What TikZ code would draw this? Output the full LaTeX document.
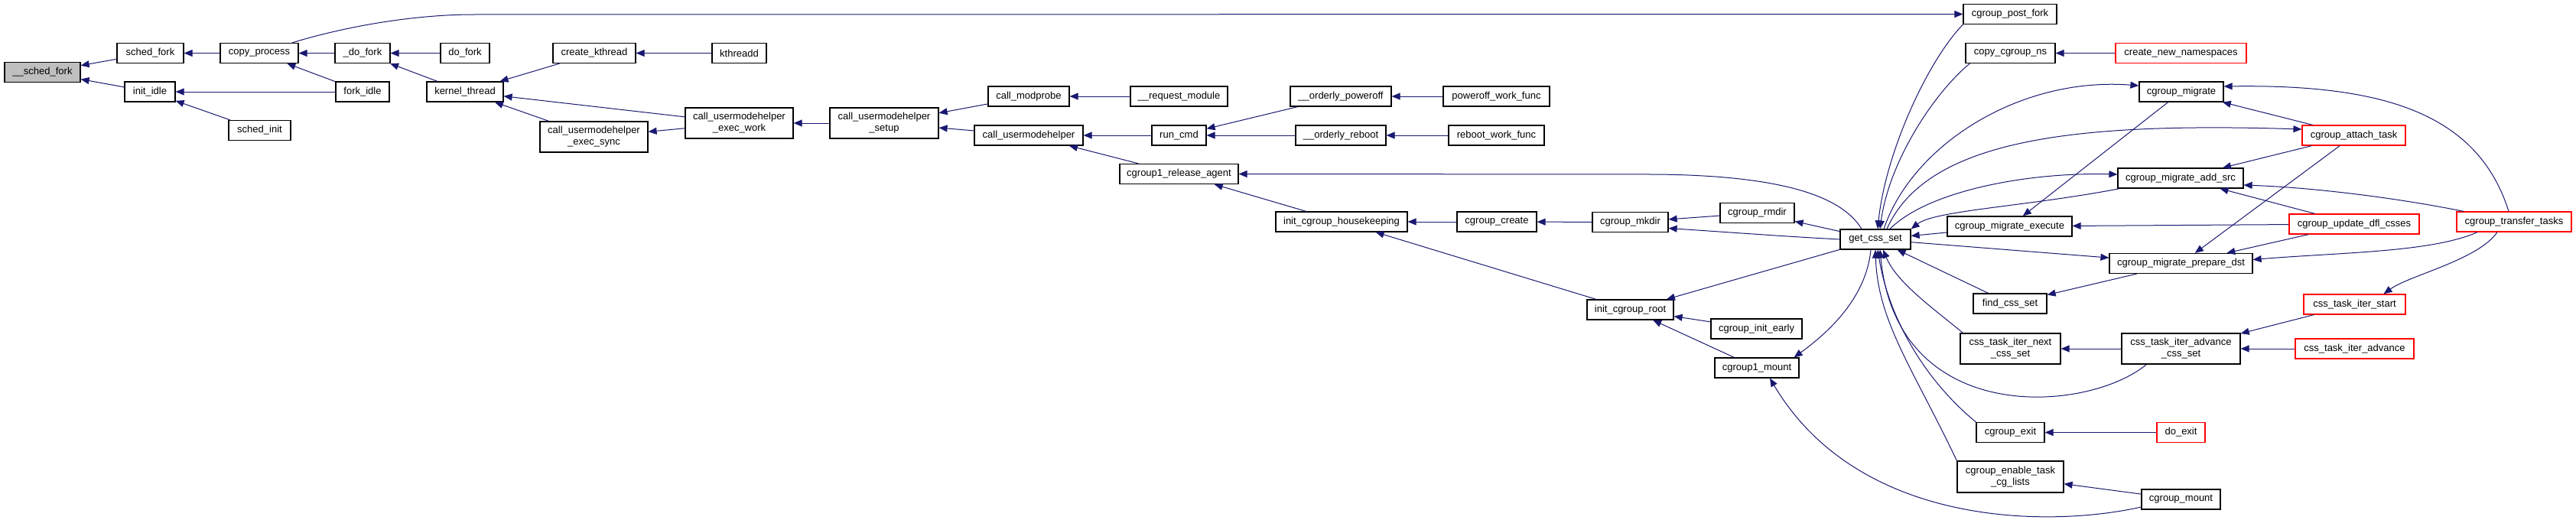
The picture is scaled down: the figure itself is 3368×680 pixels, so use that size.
\documentclass[tikz,border=0pt]{standalone}
\usepackage{fontspec}
\setmainfont{Liberation Sans}
\usetikzlibrary{arrows.meta}
\definecolor{edgeblue}{HTML}{191970}
\definecolor{truncred}{HTML}{FF0000}
\definecolor{rootgray}{HTML}{BFBFBF}

\begin{document}
\begin{tikzpicture}[
        x=1pt, y=-1pt,
        every node/.style={font=\fontsize{13}{15}\selectfont},
        func/.style={rectangle, draw=black, line width=1.2pt, fill=white, minimum height=26, inner sep=1, align=center},
        func_root/.style={func, fill=rootgray},
        func_trunc/.style={func, draw=truncred},
        arrow/.style={line width=1pt, color=edgeblue, -{Triangle[length=11pt,width=9pt]}}
        ]
        \useasboundingbox (0,0) rectangle (3368,680);

        % Fork side
        \node[func_root, minimum width=99] (uschedfork) at (55.5,94.5) {\_\_sched\_fork};
        \node[func, minimum width=87] (schedfork) at (196.5,69.5) {sched\_fork};
        \node[func, minimum width=66] (initidle) at (196,120) {init\_idle};
        \node[func, minimum width=102] (copyproc) at (339,69.5) {copy\_process};
        \node[func, minimum width=81] (schedinit) at (339.5,170.5) {sched\_init};
        \node[func, minimum width=72] (udofork) at (474,69.5) {\_do\_fork};
        \node[func, minimum width=70] (forkidle) at (474,120) {fork\_idle};
        \node[func, minimum width=64] (dofork) at (608,69.5) {do\_fork};
        \node[func, minimum width=100] (kthread) at (608,120) {kernel\_thread};
        \node[func, minimum width=108] (createkt) at (777,69.5) {create\_kthread};
        \node[func, minimum width=141, minimum height=40] (execsync) at (776.5,179) {call\_usermodehelper\\\_exec\_sync};
        \node[func, minimum width=71] (kthreadd) at (966.5,69.5) {kthreadd};
        \node[func, minimum width=141, minimum height=40] (execwork) at (966.5,161) {call\_usermodehelper\\\_exec\_work};

        % Usermode helper side
        \node[func, minimum width=142, minimum height=40] (umhsetup) at (1156,161) {call\_usermodehelper\\\_setup};
        \node[func, minimum width=106] (modprobe) at (1345,126) {call\_modprobe};
        \node[func, minimum width=142] (callumh) at (1345,177) {call\_usermodehelper};
        \node[func, minimum width=127] (reqmodule) at (1541.5,126) {\_\_request\_module};
        \node[func, minimum width=71] (runcmd) at (1541.5,177) {run\_cmd};
        \node[func, minimum width=155] (relagent) at (1541.5,227.5) {cgroup1\_release\_agent};
        \node[func, minimum width=132] (poweroff) at (1753,126) {\_\_orderly\_poweroff};
        \node[func, minimum width=118] (reboot) at (1753,177) {\_\_orderly\_reboot};
        \node[func, minimum width=172] (housekeep) at (1754,290) {init\_cgroup\_housekeeping};
        \node[func, minimum width=139] (poweroffwf) at (1956.5,126) {poweroff\_work\_func};
        \node[func, minimum width=125] (rebootwf) at (1956.5,177) {reboot\_work\_func};
        \node[func, minimum width=104] (cgcreate) at (1957,290) {cgroup\_create};

        % Cgroup side
        \node[func, minimum width=99] (mkdir) at (2131.5,290.5) {cgroup\_mkdir};
        \node[func, minimum width=113] (initroot) at (2131.5,405) {init\_cgroup\_root};
        \node[func, minimum width=97] (rmdir) at (2297.5,278.5) {cgroup\_rmdir};
        \node[func, minimum width=119] (initearly) at (2296.5,430) {cgroup\_init\_early};
        \node[func, minimum width=110] (cg1mount) at (2297,481) {cgroup1\_mount};
        \node[func, minimum width=92] (getcss) at (2452,313) {get\_css\_set};
        \node[func, minimum width=122] (postfork) at (2628,18.5) {cgroup\_post\_fork};
        \node[func, minimum width=117] (copycgns) at (2628.5,69.5) {copy\_cgroup\_ns};
        \node[func, minimum width=163] (execute) at (2627.5,296) {cgroup\_migrate\_execute};
        \node[func, minimum width=96] (findcss) at (2628,397) {find\_css\_set};
        \node[func, minimum width=131, minimum height=40] (nextcss) at (2628.5,456) {css\_task\_iter\_next\\\_css\_set};
        \node[func, minimum width=89] (cgexit) at (2628.5,565.5) {cgroup\_exit};
        \node[func, minimum width=139, minimum height=41] (enablecg) at (2628.5,623.5) {cgroup\_enable\_task\\\_cg\_lists};
        \node[func_trunc, minimum width=171] (createns) at (2851.5,69.5) {create\_new\_namespaces};
        \node[func, minimum width=110] (migrate) at (2852,120) {cgroup\_migrate};
        \node[func, minimum width=164] (addsrc) at (2851,233) {cgroup\_migrate\_add\_src};
        \node[func, minimum width=187] (preparedst) at (2851.5,344.5) {cgroup\_migrate\_prepare\_dst};
        \node[func, minimum width=155, minimum height=40] (advcss) at (2851.5,456) {css\_task\_iter\_advance\\\_css\_set};
        \node[func_trunc, minimum width=63] (doexit) at (2851.5,565.5) {do\_exit};
        \node[func, minimum width=103] (cgmount) at (2851.5,653) {cgroup\_mount};
        \node[func_trunc, minimum width=135] (attach) at (3077.5,177) {cgroup\_attach\_task};
        \node[func_trunc, minimum width=170] (updatedfl) at (3078,293) {cgroup\_update\_dfl\_csses};
        \node[func_trunc, minimum width=133] (iterstart) at (3078.5,398) {css\_task\_iter\_start};
        \node[func_trunc, minimum width=155] (iteradv) at (3078.5,456) {css\_task\_iter\_advance};
        \node[func_trunc, minimum width=150] (transfer) at (3287,290) {cgroup\_transfer\_tasks};

        % Fork calls
        \draw[arrow] (schedfork) -- (uschedfork);
        \draw[arrow] (initidle) -- (uschedfork);
        \draw[arrow] (copyproc) -- (schedfork);
        \draw[arrow] (forkidle) -- (initidle);
        \draw[arrow] (schedinit) -- (initidle);
        \draw[arrow] (udofork) -- (copyproc);
        \draw[arrow] (forkidle) -- (copyproc);
        \draw[arrow] (dofork) -- (udofork);
        \draw[arrow] (kthread) -- (udofork);
        \draw[arrow] (createkt) -- (kthread);
        \draw[arrow] (kthreadd) -- (createkt);
        \draw[arrow] (execwork) -- (kthread);
        \draw[arrow] (execsync) -- (kthread);
        \draw[arrow] (execwork) -- (execsync);
        \draw[arrow] ([xshift=43]copyproc.north) .. controls (450,35) and (540,19) .. (620,19) -- (postfork.west);

        % Usermode helper calls
        \draw[arrow] (umhsetup) -- (execwork);
        \draw[arrow] (modprobe) -- (umhsetup);
        \draw[arrow] (callumh) -- (umhsetup);
        \draw[arrow] (reqmodule) -- (modprobe);
        \draw[arrow] (runcmd) -- (callumh);
        \draw[arrow] (relagent) -- (callumh);
        \draw[arrow] (poweroff) -- (runcmd);
        \draw[arrow] (reboot) -- (runcmd);
        \draw[arrow] (poweroffwf) -- (poweroff);
        \draw[arrow] (rebootwf) -- (reboot);
        \draw[arrow] (housekeep) -- (relagent);
        \draw[arrow] (cgcreate) -- (housekeep);
        \draw[arrow] (mkdir) -- (cgcreate);
        \draw[arrow] (rmdir) -- (mkdir);
        \draw[arrow] (initroot) -- (housekeep);
        \draw[arrow] (initearly) -- (initroot);
        \draw[arrow] (cg1mount) -- (initroot);

        % get_css_set and friends
        \draw[arrow] ([xshift=-18]getcss.north) .. controls (2410,260) and (2340,229) .. (2160,228) -- (relagent.east);
        \draw[arrow] (getcss.west) .. controls (2330,309) and (2250,303) .. ([yshift=-8]mkdir.east);
        \draw[arrow] (getcss) -- (rmdir);
        \draw[arrow] (getcss) -- (initroot);
        \draw[arrow] ([xshift=-6]getcss.south) .. controls (2440,390) and (2390,435) .. ([xshift=-7]cg1mount.north east);
        \draw[arrow] ([yshift=-10]cgmount.west) .. controls (2680,690) and (2430,690) .. ([xshift=17]cg1mount.south);
        \draw[arrow] (postfork.south west) .. controls (2520,80) and (2465,200) .. ([xshift=3]getcss.north);
        \draw[arrow] ([xshift=6]copycgns.south west) .. controls (2530,120) and (2470,210) .. ([xshift=6]getcss.north);
        \draw[arrow] (createns) -- (copycgns);
        \draw[arrow] ([xshift=11]getcss.north) .. controls (2500,190) and (2640,100) .. ([yshift=8]migrate.west);
        \draw[arrow] (migrate) -- (execute);
        \draw[arrow] (attach) -- (migrate);
        \draw[arrow] ([xshift=-7]transfer.north) .. controls (3240,150) and (3120,110) .. ([yshift=7]migrate.east);
        \draw[arrow] ([xshift=15]getcss.north) .. controls (2520,180) and (2720,160) .. ([yshift=8]attach.west);
        \draw[arrow] (attach) -- (addsrc);
        \draw[arrow] (attach) -- (preparedst);
        \draw[arrow] ([xshift=19]getcss.north) .. controls (2520,250) and (2650,225) .. ([yshift=5]addsrc.west);
        \draw[arrow] ([xshift=3]addsrc.south west) .. controls (2650,270) and (2530,275) .. (getcss.north east);
        \draw[arrow] (execute) -- (getcss);
        \draw[arrow] (updatedfl) -- (execute);
        \draw[arrow] (updatedfl) -- (addsrc);
        \draw[arrow] (updatedfl) -- (preparedst);
        \draw[arrow] ([xshift=-66]transfer.north) .. controls (3130,258) and (3020,245) .. ([yshift=-9]addsrc.east);
        \draw[arrow] ([xshift=-48]transfer.south) .. controls (3180,330) and (3060,330) .. ([yshift=5]preparedst.east);
        \draw[arrow] (getcss) -- (preparedst);
        \draw[arrow] (preparedst) -- (findcss);
        \draw[arrow] (findcss) -- (getcss);
        \draw[arrow] ([xshift=4]nextcss.north west) .. controls (2530,405) and (2480,370) .. ([xshift=10]getcss.south);
        \draw[arrow] (advcss) -- (nextcss);
        \draw[arrow] ([xshift=33]advcss.south west) .. controls (2730,540) and (2480,560) .. ([xshift=6]getcss.south);
        \draw[arrow] (iterstart) -- (advcss);
        \draw[arrow] (iteradv) -- (advcss);
        \draw[arrow] ([xshift=-22]transfer.south) .. controls (3240,340) and (3150,360) .. ([xshift=38]iterstart.north);
        \draw[arrow] (cgexit.north west) .. controls (2520,500) and (2470,420) .. ([xshift=3]getcss.south);
        \draw[arrow] (doexit) -- (cgexit);
        \draw[arrow] (enablecg.north west) .. controls (2500,480) and (2455,420) .. (getcss.south);
        \draw[arrow] (cgmount) -- (enablecg);

    \end{tikzpicture}
\end{document}
